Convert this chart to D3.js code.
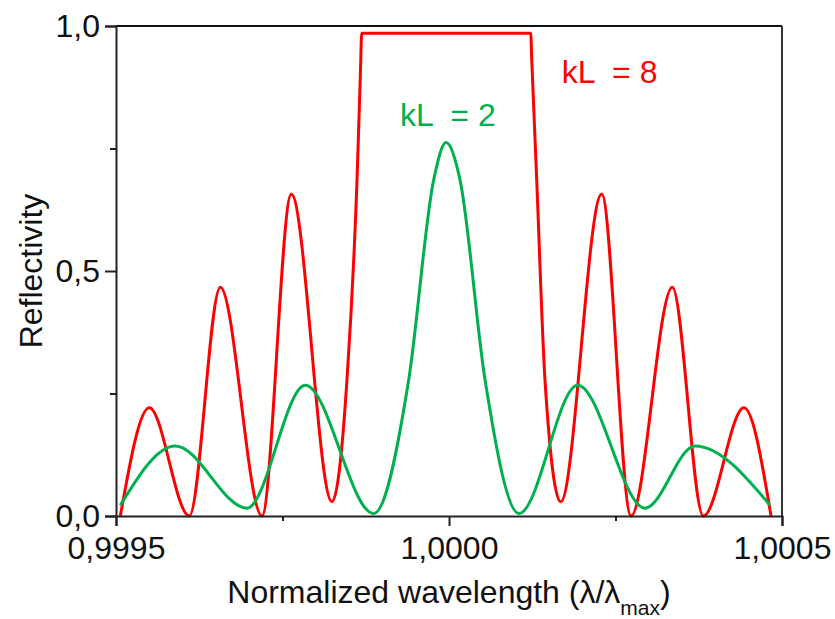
<!DOCTYPE html>
<html>
<head>
<meta charset="utf-8">
<script src="https://cdn.jsdelivr.net/npm/d3@7"></script>
<style>
  body { margin: 0; background: #fff; }
  text { font-family: "Liberation Sans", Arial, sans-serif; }
</style>
</head>
<body>
<div id="chart"></div>
<script>
// wavelength (lambda / lambda_max) and reflectivity:
// lobe peaks, zeros and the points along the steep stop-band edges
var kL8Wavelength = [0.9995065, 0.9995500, 0.9996101, 0.9996566, 0.9997192, 0.9997632, 0.9998243,
  0.9998468, 0.9998619, 0.9998671, 0.9998689,
  1.0001227, 1.0001243, 1.0001317, 1.0001441,
  1.0001677, 1.0002293, 1.0002733, 1.0003353, 1.0003818, 1.0004429, 1.0004835];
var kL8Reflectivity = [0.000, 0.221, 0.000, 0.467, 0.000, 0.657, 0.029,
  0.278, 0.686, 0.910, 0.985,
  0.985, 0.930, 0.686, 0.278,
  0.029, 0.657, 0.000, 0.467, 0.000, 0.221, 0.000];

var kL2Wavelength = [0.9995065, 0.9995890, 0.9996967, 0.9997842, 0.9998869,
  0.9999395, 0.9999770, 0.9999955, 1.0000165, 1.0000541,
  1.0001051, 1.0001932, 1.0002943, 1.0003694, 1.0004820];
var kL2Reflectivity = [0.022, 0.143, 0.016, 0.267, 0.005,
  0.278, 0.686, 0.762, 0.686, 0.278,
  0.005, 0.267, 0.016, 0.143, 0.022];

var xMajorTicks = [0.9995, 1.0000, 1.0005];
var xMajorLabels = ["0,9995", "1,0000", "1,0005"];
var xMinorTicks = [0.99975, 1.00025];
var yMajorTicks = [0, 0.5, 1];
var yMajorLabels = ["0,0", "0,5", "1,0"];
var yMinorTicks = [0.25, 0.75];

var seriesNames = ["kL  = 8", "kL  = 2"];
var seriesColors = ["#ff0000", "#00b050"];
var labelWavelength = [1.0001692, 0.9999264];
var labelReflectivity = [0.883, 0.796];

var width = 835, height = 619;
var margin = { top: 26, left: 116, right: 53, bottom: 103 };

var svg = d3.select("#chart").append("svg")
  .attr("width", width)
  .attr("height", height);

var x = d3.scaleLinear().domain([0.9995, 1.0005]).range([margin.left, width - margin.right]);
var y = d3.scaleLinear().domain([0, 1]).range([height - margin.bottom, margin.top]);

var line = d3.line()
  .x(function(d) { return x(d[0]); })
  .y(function(d) { return y(d[1]); })
  .curve(d3.curveMonotoneX);

// frame
svg.append("line")
  .attr("x1", x(0.9995)).attr("x2", x(1.0005))
  .attr("y1", y(1)).attr("y2", y(1))
  .attr("stroke", "#111").attr("stroke-width", 2);
svg.append("line")
  .attr("x1", x(1.0005)).attr("x2", x(1.0005))
  .attr("y1", y(1)).attr("y2", y(0))
  .attr("stroke", "#333").attr("stroke-width", 2);

// curves
var curves = [
  d3.zip(kL8Wavelength, kL8Reflectivity),
  d3.zip(kL2Wavelength, kL2Reflectivity)
];
curves.forEach(function(pts, i) {
  svg.append("path")
    .datum(pts)
    .attr("fill", "none")
    .attr("stroke", seriesColors[i])
    .attr("stroke-width", 3)
    .attr("stroke-linejoin", "round")
    .attr("d", line);
});

// axes
svg.append("g")
  .attr("transform", "translate(0," + y(0) + ")")
  .call(d3.axisBottom(x).tickValues(xMajorTicks).tickSize(10).tickPadding(10)
    .tickFormat(function(d, i) { return xMajorLabels[i]; }));
svg.append("g")
  .attr("transform", "translate(0," + y(0) + ")")
  .call(d3.axisBottom(x).tickValues(xMinorTicks).tickSize(5).tickFormat(""))
  .select(".domain").remove();

svg.append("g")
  .attr("transform", "translate(" + x(0.9995) + ",0)")
  .call(d3.axisLeft(y).tickValues(yMajorTicks).tickSize(11).tickPadding(5)
    .tickFormat(function(d, i) { return yMajorLabels[i]; }));
svg.append("g")
  .attr("transform", "translate(" + x(0.9995) + ",0)")
  .call(d3.axisLeft(y).tickValues(yMinorTicks).tickSize(6).tickFormat(""))
  .select(".domain").remove();

svg.selectAll(".domain").attr("stroke", "#222").attr("stroke-width", 2);
svg.selectAll(".tick line").attr("stroke", "#222").attr("stroke-width", 2);
svg.selectAll(".tick text")
  .attr("fill", "#111")
  .style("font-size", "32px")
  .style("font-family", "'Liberation Sans', Arial, sans-serif");

// axis titles
var xTitle = svg.append("text")
  .attr("x", (x.range()[0] + x.range()[1]) / 2)
  .attr("y", 603)
  .attr("text-anchor", "middle")
  .style("font-size", "32px")
  .attr("fill", "#111");
xTitle.append("tspan").text("Normalized wavelength (\u03bb/\u03bb");
xTitle.append("tspan").attr("dy", 12).style("font-size", "21px").text("max");
xTitle.append("tspan").attr("dy", -12).text(")");

svg.append("text")
  .attr("transform", "translate(42," + (y(0) + y(1)) / 2 + ") rotate(-90)")
  .attr("text-anchor", "middle")
  .style("font-size", "32px")
  .attr("fill", "#111")
  .text("Reflectivity");

// curve labels
seriesNames.forEach(function(name, i) {
  svg.append("text")
    .attr("x", x(labelWavelength[i]))
    .attr("y", y(labelReflectivity[i]))
    .style("font-size", "32px")
    .style("white-space", "pre")
    .attr("fill", seriesColors[i])
    .text(name);
});
</script>
</body>
</html>
